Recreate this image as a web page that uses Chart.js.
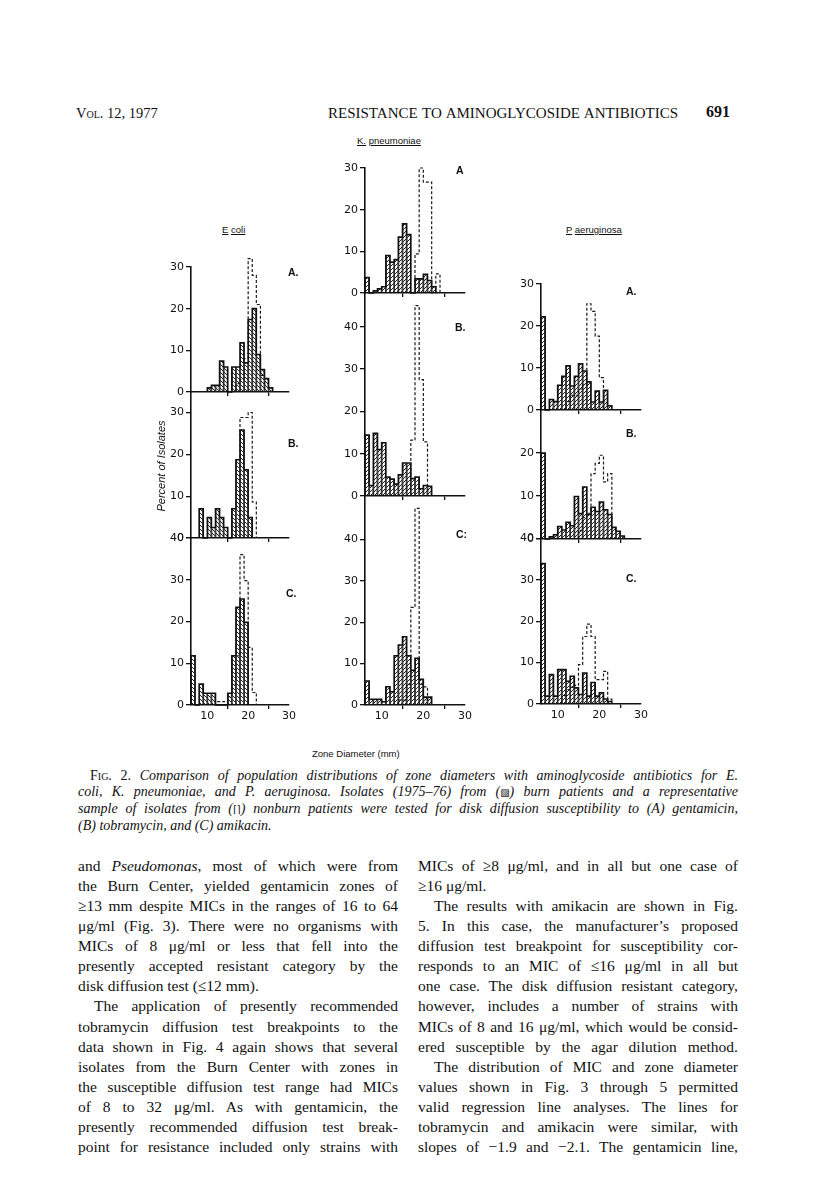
<!DOCTYPE html>
<html><head><meta charset="utf-8">
<script src="https://cdn.jsdelivr.net/npm/chart.js@4.4.0/dist/chart.umd.min.js"></script>
<style>
html,body{margin:0;padding:0;background:#fff;}
#page{position:relative;width:816px;height:1199px;overflow:hidden;background:#fff;}
.t{position:absolute;white-space:nowrap;color:#111;}
.serif{font-family:"Liberation Serif","Times New Roman",serif;}
.sans{font-family:"Liberation Sans","DejaVu Sans",sans-serif;}
.j{text-align:justify;text-align-last:justify;white-space:normal;}
canvas{position:absolute;}
</style></head>
<body><div id="page"></div>
<script>
// ---------------- DATA ----------------
const zoneBins = [6,7,8,9,10,11,12,13,14,15,16,17,18,19,20,21,22,23,24,25,26];
const xTickValues = [10, 20, 30];
const yTickValues = [0, 10, 20, 30, 40];

// E. coli
const ecoliGentBurn     = [0,0,0,0,1,1.6,1.6,7.4,6,0,6,6,11.8,7,17.4,20,9,5.4,3.2,1,0];
const ecoliGentNonburn  = [0,0,0,0,0,0,0,0,0,0,0,2,3,8,32,28,21,4,0,0,0];
const ecoliTobraBurn    = [0,0,7,0,4.9,2.5,7,4.9,2.5,0,7,18.7,25.8,16.3,4.9,0,0,0,0,0,0];
const ecoliTobraNonburn = [0,0,0,0,0,0,0,0,0,0,0,3,28.8,28.8,30,8.6,0,0,0,0,0];
const ecoliAmikBurn     = [11.8,0,5,2.8,2.8,2.8,0,0,0,2.8,11.8,23.4,25.4,19.8,0,0,0,0,0,0,0];
const ecoliAmikNonburn  = [0,0,0,0,0,0,0.8,0.8,0.8,2,5,11.8,36,29.8,13.8,3,0,0,0,0,0];
// K. pneumoniae
const kpGentBurn     = [3.7,0,0.5,1,1.5,9,7.4,8,13.4,16.6,14,0,3.4,3.4,4.5,3,1.5,0,0,0,0];
const kpGentNonburn  = [0,0,0,0,0,0,0,0,0,0,0,0,9.4,30,26.6,26.6,0,4.6,0,0,0];
const kpTobraBurn    = [14.4,2.5,14.8,11,12.6,4.5,4,2.8,5,7.8,7.8,4.1,4.5,1.7,2.5,2.3,0,0,0,0,0];
const kpTobraNonburn = [0,0,0,0,0,0,0,0,0,0,0,13.2,45,27.5,12.8,0,0,0,0,0,0];
const kpAmikBurn     = [5.8,1.4,1.4,1.4,0.8,4.4,3.2,11.9,14.5,16.5,11.9,8.4,11.3,6.2,1.9,1.9,0,0,0,0,0];
const kpAmikNonburn  = [0,0,0,0,0,0,0,0,1.2,1.2,5,23.6,47.5,5,4.4,0,0,0,0,0,0];
// P. aeruginosa
const paGentBurn     = [22.2,0,2.5,2,5.9,8,10.5,5.7,8,11,9.3,6.7,1.9,4.5,1.9,4.7,1,0,0,0,0];
const paGentNonburn  = [0,0,0,0,0,0,2,3.5,3.5,5,6,25.3,23.5,17.6,7.7,0,0,0,0,0,0];
const paTobraBurn    = [20,0,0.5,1,2.9,2.1,3.9,3.1,9.9,5.9,12.1,5.7,7.4,6.4,8.6,6.8,5.7,2.7,1.8,0.7,0];
const paTobraNonburn = [0,0,0,0,0,0,0,0,0,2,5,6,15.2,17.6,19.5,13.3,15.2,0,0,0,0];
const paAmikBurn     = [33.9,1.9,7.1,1.9,8.3,8.3,5.5,6.7,3.9,2.3,7.5,1.9,5.2,1.9,2.7,1.2,0.6,0,0,0,0];
const paAmikNonburn  = [0,0,0,0,0,2,3.5,4,4.5,9.5,16.3,19.3,16.3,5.9,5.9,7.9,1.2,0,0,0,0];

// ---------------- LAYOUT ----------------
const page = document.getElementById('page');
const YW = 30, PT = 14, PR = 14;
const panels = [
  {burn: ecoliGentBurn,  non: ecoliGentNonburn,  x0:191, x1:289, top:267,   y0:391.7, ymax:30,   xl:false, hatch:'\\'},
  {burn: ecoliTobraBurn, non: ecoliTobraNonburn, x0:191, x1:289, top:391.7, y0:537.7, ymax:34.9, xl:false, hatch:'\\'},
  {burn: ecoliAmikBurn,  non: ecoliAmikNonburn,  x0:191, x1:289, top:537.7, y0:704.3, ymax:40,   xl:true,  hatch:'\\'},
  {burn: kpGentBurn,  non: kpGentNonburn,  x0:365, x1:465, top:167.7, y0:292.7, ymax:30,   xl:false, hatch:'/'},
  {burn: kpTobraBurn, non: kpTobraNonburn, x0:365, x1:465, top:292.7, y0:495.7, ymax:48,   xl:false, hatch:'/'},
  {burn: kpAmikBurn,  non: kpAmikNonburn,  x0:365, x1:465, top:495.7, y0:705,   ymax:50.5, xl:true,  hatch:'/'},
  {burn: paGentBurn,  non: paGentNonburn,  x0:540.5, x1:640.5, top:284.3, y0:410.7, ymax:30,   xl:false, hatch:'/'},
  {burn: paTobraBurn, non: paTobraNonburn, x0:540.5, x1:640.5, top:410.7, y0:538.3, ymax:29.8, xl:false, hatch:'/'},
  {burn: paAmikBurn,  non: paAmikNonburn,  x0:540.5, x1:640.5, top:538.3, y0:704.3, ymax:40.1, xl:true,  hatch:'/'}
];

function makeHatch(ctx, dir) {
  const c = document.createElement('canvas');
  c.width = 4; c.height = 4;
  const g = c.getContext('2d');
  g.strokeStyle = '#222'; g.lineWidth = 1;
  g.beginPath();
  if (dir === '/') {
    g.moveTo(-1,5); g.lineTo(5,-1);
    g.moveTo(-1,1); g.lineTo(1,-1);
    g.moveTo(3,5); g.lineTo(5,3);
  } else {
    g.moveTo(-1,-1); g.lineTo(5,5);
    g.moveTo(-1,3); g.lineTo(1,5);
    g.moveTo(3,-1); g.lineTo(5,1);
  }
  g.stroke();
  return ctx.createPattern(c, 'repeat');
}

// histogram envelope (steps) built from a series of bin values
function stepOutline(bins, vals) {
  let f = vals.findIndex(v => v > 0);
  let l = vals.length - 1;
  while (l >= 0 && !(vals[l] > 0)) l--;
  const pts = [{x: bins[f], y: 0}];
  for (let i = f; i <= l; i++) {
    pts.push({x: bins[i], y: vals[i]});
    pts.push({x: bins[i] + 1, y: vals[i]});
  }
  pts.push({x: bins[l] + 1, y: 0});
  return pts;
}

const tickFont = {family: 'DejaVu Sans', size: 11};
panels.forEach(p => {
  const XH = p.xl ? 22 : 6;
  const cv = document.createElement('canvas');
  const left = Math.round(p.x0 - YW), top = Math.round(p.top - PT);
  const W = Math.round(YW + (p.x1 - p.x0) + PR);
  const H = Math.round(PT + (p.y0 - p.top) + XH);
  cv.width = W; cv.height = H;
  cv.style.left = left + 'px'; cv.style.top = top + 'px';
  cv.style.width = W + 'px'; cv.style.height = H + 'px';
  page.appendChild(cv);
  const ctx = cv.getContext('2d');
  new Chart(ctx, {
    type: 'bar',
    data: {
      datasets: [
        { type: 'line', data: stepOutline(zoneBins, p.non), borderColor: '#1a1a1a', borderWidth: 1.2,
          borderDash: [3, 2], pointRadius: 0, fill: false, tension: 0, order: 0, clip: false },
        { type: 'line', data: stepOutline(zoneBins, p.burn), borderColor: '#111', borderWidth: 1.6,
          pointRadius: 0, fill: false, tension: 0, order: 1, clip: false },
        { type: 'bar', data: zoneBins.map((b, i) => ({x: b + 0.5, y: p.burn[i]})),
          backgroundColor: makeHatch(ctx, p.hatch), borderColor: '#333',
          borderWidth: {top: 0, left: 0.6, right: 0.6, bottom: 0},
          barPercentage: 1, categoryPercentage: 1, order: 2 }
      ]
    },
    options: {
      responsive: false, animation: false, events: [], devicePixelRatio: 1,
      layout: {padding: {top: PT, right: PR, bottom: 0, left: 0}},
      plugins: {legend: {display: false}, tooltip: {enabled: false}},
      scales: {
        x: {
          type: 'linear', min: 6, max: 30, offset: false,
          grid: {display: true, drawOnChartArea: false, drawTicks: true, tickLength: 4, color: '#111', lineWidth: 1.3},
          border: {display: true, color: '#111', width: 1.6},
          ticks: {display: p.xl, font: tickFont, color: '#111', padding: 1, maxRotation: 0, autoSkip: false},
          afterBuildTicks: s => { s.ticks = xTickValues.map(v => ({value: v})); },
          afterFit: s => { s.height = XH; s.paddingLeft = 0; s.paddingRight = 0; }
        },
        y: {
          min: 0, max: p.ymax,
          grid: {display: true, drawOnChartArea: false, drawTicks: true, tickLength: 5, color: '#111', lineWidth: 1.3},
          border: {display: true, color: '#111', width: 1.6},
          ticks: {font: tickFont, color: '#111', padding: 2, autoSkip: false},
          afterBuildTicks: s => { s.ticks = yTickValues.filter(v => v <= p.ymax + 0.01).map(v => ({value: v})); },
          afterFit: s => { s.width = YW; s.paddingTop = 0; s.paddingBottom = 0; }
        }
      }
    }
  });
});

// ---------------- TEXT ----------------
function put(html, x, yc, opts) {
  const d = document.createElement('div');
  d.className = 't ' + (opts.cls || '');
  const lh = opts.lh || 20;
  d.style.left = x + 'px';
  d.style.top = (yc - lh / 2) + 'px';
  d.style.lineHeight = lh + 'px';
  d.style.fontSize = opts.size + 'px';
  if (opts.w) d.style.width = opts.w + 'px';
  if (opts.style) d.setAttribute('style', d.getAttribute('style') + ';' + opts.style);
  d.innerHTML = html;
  page.appendChild(d);
  return d;
}

// header
put('<span style="font-variant:small-caps">Vol.</span> 12, 1977', 76, 113, {cls: 'serif', size: 14.5});
put('RESISTANCE TO AMINOGLYCOSIDE ANTIBIOTICS', 328, 113, {cls: 'serif j', size: 15, w: 350});
put('691', 706, 112, {cls: 'serif', size: 16, style: 'font-weight:bold'});

// species
put('<u>K.</u> <u>pneumoniae</u>', 357, 141, {cls: 'sans', size: 9.5});
put('<u>E</u> <u>coli</u>', 222, 230, {cls: 'sans', size: 9.5});
put('<u>P</u> <u>aeruginosa</u>', 566, 230, {cls: 'sans', size: 9.5});

// panel letters
const letters = [['A.',293,272],['B.',293,443],['C.',291,593],['A',461,170],['B.',460,327],['C:',461,534],['A.',631,291],['B.',631,433],['C.',631,578]];
letters.forEach(([s,x,y]) => put(s, x - 5, y, {cls: 'sans', size: 10.5, style: 'font-weight:bold'}));

// axis titles
put('<i>Percent of Isolates</i>', 106, 466, {cls: 'sans', size: 11, w: 110, style: 'text-align:center;transform:rotate(-90deg);transform-origin:center'});
put('Zone Diameter (mm)', 312, 754, {cls: 'sans', size: 9.5});

// caption
const capLines = [
  ['<span style="font-style:normal">F<span style="font-variant:small-caps">ig</span>. 2.</span> Comparison of population distributions of zone diameters with aminoglycoside antibiotics for E.', true, 12],
  ['coli, K. pneumoniae, and P. aeruginosa. Isolates (1975–76) from (<span style="font-style:normal;font-family:DejaVu Sans;font-size:10px">▨</span>) burn patients and a representative', true, 0],
  ['sample of isolates from (<span style="font-style:normal;font-family:DejaVu Sans;font-size:10px">⌈⌉</span>) nonburn patients were tested for disk diffusion susceptibility to (A) gentamicin,', true, 0],
  ['(B) tobramycin, and (C) amikacin.', false, 0]
];
capLines.forEach(([s, j, ind], i) => put(s, 78 + ind, 775 + i * 16.7, {cls: 'serif' + (j ? ' j' : ''), size: 14, w: 660 - ind, lh: 17, style: 'font-style:italic'}));

// body text
const bodyLeft = [
  ['and <i>Pseudomonas</i>, most of which were from', 1],
  ['the Burn Center, yielded gentamicin zones of', 1],
  ['≥13 mm despite MICs in the ranges of 16 to 64', 1],
  ['μg/ml (Fig. 3). There were no organisms with', 1],
  ['MICs of 8 μg/ml or less that fell into the', 1],
  ['presently accepted resistant category by the', 1],
  ['disk diffusion test (≤12 mm).', 0],
  ['The application of presently recommended', 2],
  ['tobramycin diffusion test breakpoints to the', 1],
  ['data shown in Fig. 4 again shows that several', 1],
  ['isolates from the Burn Center with zones in', 1],
  ['the susceptible diffusion test range had MICs', 1],
  ['of 8 to 32 μg/ml. As with gentamicin, the', 1],
  ['presently recommended diffusion test break-', 1],
  ['point for resistance included only strains with', 1]
];
const bodyRight = [
  ['MICs of ≥8 μg/ml, and in all but one case of', 1],
  ['≥16 μg/ml.', 0],
  ['The results with amikacin are shown in Fig.', 2],
  ['5. In this case, the manufacturer’s proposed', 1],
  ['diffusion test breakpoint for susceptibility cor-', 1],
  ['responds to an MIC of ≤16 μg/ml in all but', 1],
  ['one case. The disk diffusion resistant category,', 1],
  ['however, includes a number of strains with', 1],
  ['MICs of 8 and 16 μg/ml, which would be consid-', 1],
  ['ered susceptible by the agar dilution method.', 1],
  ['The distribution of MIC and zone diameter', 2],
  ['values shown in Fig. 3 through 5 permitted', 1],
  ['valid regression line analyses. The lines for', 1],
  ['tobramycin and amikacin were similar, with', 1],
  ['slopes of −1.9 and −2.1. The gentamicin line,', 1]
];
function col(lines, x, w) {
  lines.forEach(([s, k], i) => {
    const ind = k === 2 ? 16 : 0;
    put(s, x + ind, 866 + i * 20.07, {cls: 'serif' + (k ? ' j' : ''), size: 15.5, w: w - ind, lh: 20});
  });
}
col(bodyLeft, 78, 320);
col(bodyRight, 418, 320);
</script>
</body></html>
